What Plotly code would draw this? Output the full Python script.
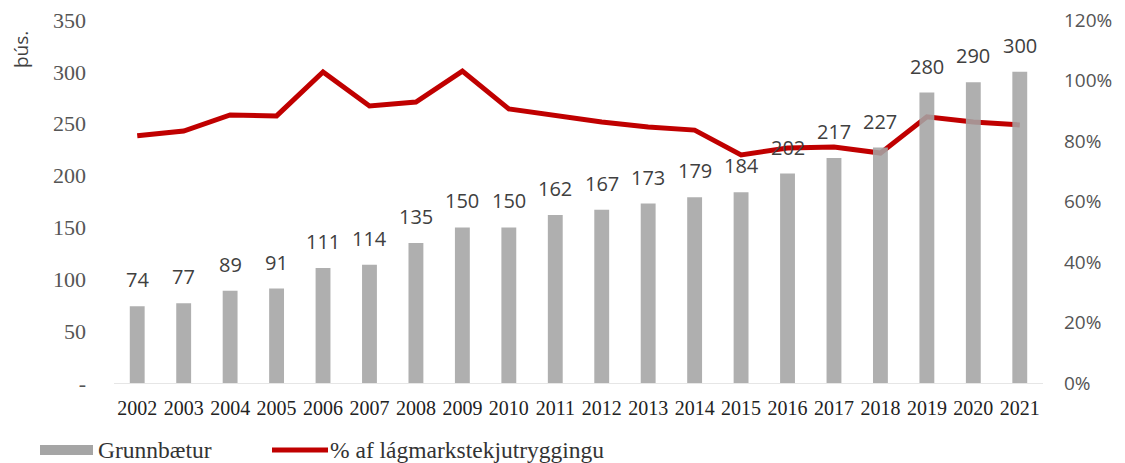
import plotly.graph_objects as go

years = [str(y) for y in range(2002, 2022)]
grunnbaetur = [74, 77, 89, 91, 111, 114, 135, 150, 150, 162, 167, 173, 179, 184, 202, 217, 227, 280, 290, 300]
hlutfall = [81.7, 83.3, 88.6, 88.3, 102.8, 91.6, 92.9, 103.1, 90.6, 88.4, 86.3, 84.6, 83.6, 75.4, 77.7, 78.0, 76.0, 88.0, 86.3, 85.3]

left_ticks = [0, 50, 100, 150, 200, 250, 300, 350]
left_ticktext = ["-", "50", "100", "150", "200", "250", "300", "350"]
right_ticks = [0, 20, 40, 60, 80, 100, 120]
right_ticktext = [f"{v}%" for v in right_ticks]

W, H = 1125, 463
ML, MR, MT, MB = 114, 82, 20, 80
PW, PH = W - ML - MR, H - MT - MB


def px(x):
    return (x - ML) / PW


def py(y):
    return (H - MB - y) / PH


serif = "Liberation Serif, serif"
sans = "Open Sans, Noto Sans, sans-serif"

fig = go.Figure()
fig.add_trace(go.Scatter(
    x=years, y=hlutfall, name="% af lágmarkstekjutryggingu",
    mode="lines", line=dict(color="#c00000", width=5), yaxis="y",
))
fig.add_trace(go.Bar(
    x=years, y=grunnbaetur, name="Grunnbætur", yaxis="y2",
    marker=dict(color="#a5a5a5", line=dict(width=0)), opacity=0.88,
))

annotations = [
    dict(x=i, y=v, xref="x", yref="y2", text=str(v), showarrow=False,
         yanchor="bottom", yshift=11,
         font=dict(family=sans, size=20, color="#404040"))
    for i, v in enumerate(grunnbaetur)
]
annotations += [
    dict(text="þús.", textangle=-90, x=px(21), y=py(50), xref="paper", yref="paper",
         showarrow=False, xanchor="center", yanchor="middle",
         font=dict(family=sans, size=19, color="#404040")),
    dict(text="Grunnbætur", x=px(96), y=py(450), xref="paper", yref="paper",
         showarrow=False, xanchor="left", yanchor="middle",
         font=dict(family=serif, size=23.5, color="#333333")),
    dict(text="% af lágmarkstekjutryggingu", x=px(328), y=py(450), xref="paper", yref="paper",
         showarrow=False, xanchor="left", yanchor="middle",
         font=dict(family=serif, size=23.5, color="#333333")),
]

fig.update_layout(
    width=W, height=H,
    margin=dict(l=ML, r=MR, t=MT, b=MB, autoexpand=False),
    paper_bgcolor="white", plot_bgcolor="white",
    bargap=0.68,
    showlegend=False,
    xaxis=dict(type="category", range=[-0.5, len(years) - 0.5], showgrid=False,
               showline=True, linecolor="#e6e6e6",
               linewidth=1, ticks="", ticklabelstandoff=7,
               tickfont=dict(family=serif, size=20, color="#222222")),
    yaxis=dict(side="right", range=[0, 120], tickvals=right_ticks, ticktext=right_ticktext,
               showgrid=False, zeroline=False, showline=False, ticklabelstandoff=20,
               tickfont=dict(family=sans, size=19, color="#555555")),
    yaxis2=dict(side="left", overlaying="y", range=[0, 350], tickvals=left_ticks,
                ticktext=left_ticktext, showgrid=False, zeroline=False, showline=False,
                tickfont=dict(family=serif, size=22, color="#555555"),
                ticklabelstandoff=27),
    annotations=annotations,
    shapes=[
        dict(type="rect", xref="paper", yref="paper", x0=px(40), x1=px(93),
             y0=py(455), y1=py(445), fillcolor="#a5a5a5", line=dict(width=0)),
        dict(type="line", xref="paper", yref="paper", x0=px(272), x1=px(328),
             y0=py(450), y1=py(450), line=dict(color="#c00000", width=5)),
    ],
)

fig.write_html("out.html", config={"displayModeBar": False},
               post_script="document.body.style.margin='0';document.body.style.overflow='hidden';")
